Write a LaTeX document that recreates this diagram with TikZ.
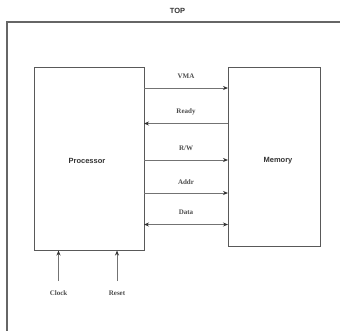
\documentclass[tikz,border=0pt]{standalone}
\usepackage{fontspec}
\setmainfont{Liberation Serif}
\setsansfont{Liberation Sans}
\usetikzlibrary{arrows.meta}
\tikzset{
  blk/.style={draw=black!65, line width=0.9pt, fill=white},
  frameline/.style={draw=black!60, line width=1.3pt},
  sig/.style={draw=black!55, line width=0.9pt, -{Stealth[length=5pt,width=4pt,black!80]}},
  sigb/.style={draw=black!55, line width=0.9pt, {Stealth[length=5pt,width=4pt,black!80]}-{Stealth[length=5pt,width=4pt,black!80]}},
  lbl/.style={font=\bfseries\fontsize{7}{8}\selectfont, text=black!70, inner sep=0pt},
  ttl/.style={font=\sffamily\bfseries\fontsize{7.5}{8}\selectfont, text=black!80, inner sep=0pt}
}
\begin{document}
\begin{tikzpicture}[x=1pt,y=-1pt]
\useasboundingbox (0,0) rectangle (340,330);
\clip (0,0) rectangle (340,330);
% outer frame (extends past the picture edges)
\draw[frameline] (7,340) -- (7,22) -- (350,22);
\node[ttl] (top) at (177.5,11) {TOP};
% blocks
\draw[blk] (34,67) rectangle (144,250.5);
\draw[blk] (228,67) rectangle (320.5,246);
\node[ttl] (proc) at (87,161) {Processor};
\node[ttl] (mem) at (278,161) {Memory};
% signal ends
\coordinate (pA) at (144,88);   \coordinate (mA) at (228,88);
\coordinate (pB) at (144,123.5);\coordinate (mB) at (228,123.5);
\coordinate (pC) at (144,160);  \coordinate (mC) at (228,160);
\coordinate (pD) at (144,193);  \coordinate (mD) at (228,193);
\coordinate (pE) at (144,224.5);\coordinate (mE) at (228,224.5);
\draw[sig] (pA) -- (mA);
\draw[sig] (mB) -- (pB);
\draw[sig] (pC) -- (mC);
\draw[sig] (pD) -- (mD);
\draw[sigb] (pE) -- (mE);
\node[lbl] (lA) at (186,76) {VMA};
\node[lbl] (lB) at (186,111.5) {Ready};
\node[lbl] (lC) at (186,148) {R/W};
\node[lbl] (lD) at (186,182) {Addr};
\node[lbl] (lE) at (186,212) {Data};
% inputs
\coordinate (cS) at (58.5,281);  \coordinate (cE) at (58.5,250.5);
\coordinate (rS) at (117,281);   \coordinate (rE) at (117,250.5);
\draw[sig] (cS) -- (cE);
\draw[sig] (rS) -- (rE);
\node[lbl] (clk) at (58.5,293) {Clock};
\node[lbl] (rst) at (117,293) {Reset};
\end{tikzpicture}
\end{document}
